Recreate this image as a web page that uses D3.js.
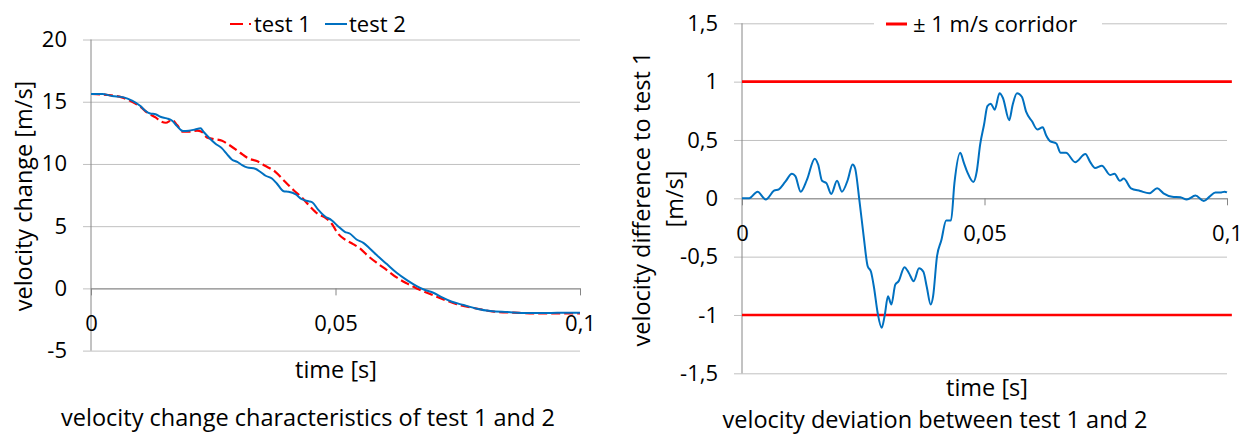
<!DOCTYPE html>
<html>
<head>
<meta charset="utf-8">
<script src="https://cdn.jsdelivr.net/npm/d3@7"></script>
<style>
  body { margin: 0; background: #fff; }
  svg { display: block; font-family: 'Open Sans', sans-serif; }
</style>
</head>
<body>
<svg id="charts" width="1254" height="435"></svg>
<script>
(function (d3) {
  'use strict';

  // test 1 (red dashed), time in s
  const test1Time = [0, 0.0036, 0.0063, 0.0084, 0.0101, 0.0115, 0.0132, 0.0142, 0.0153, 0.0166,
    0.0176, 0.0188, 0.0200, 0.0217, 0.0226, 0.0237, 0.0251, 0.0268, 0.0285, 0.0305,
    0.0322, 0.0339, 0.0357, 0.0377, 0.0397, 0.0414, 0.0431, 0.0447, 0.0464, 0.0478,
    0.0492, 0.0505, 0.0519, 0.0536, 0.0550, 0.0567, 0.0584, 0.0605, 0.0625, 0.0646,
    0.0666, 0.0687, 0.0707, 0.0728, 0.0748, 0.0769, 0.0796, 0.0824, 0.0865, 0.0906,
    0.0947, 0.1000];
  const test1Velocity = [15.62, 15.54, 15.35, 15.0, 14.6, 14.12, 13.74, 13.44, 13.31, 13.53,
    13.12, 12.59, 12.59, 12.67, 12.59, 12.13, 12.0, 11.86, 11.46, 10.9,
    10.44, 10.23, 9.83, 9.37, 8.57, 7.9, 7.31, 6.62, 5.98, 5.7,
    5.21, 4.41, 3.93, 3.56, 3.21, 2.59, 2.06, 1.47, 0.88, 0.40,
    0.0, -0.35, -0.67, -0.99, -1.28, -1.47, -1.68, -1.87, -1.95, -2.01,
    -2.01, -2.01];

  // test 2 (blue)
  const test2Time = [0, 0.0023, 0.0043, 0.0067, 0.0084, 0.0101, 0.0111, 0.0121, 0.0132, 0.0142,
    0.0155, 0.0166, 0.0176, 0.0188, 0.0200, 0.0213, 0.0224, 0.0230, 0.0241, 0.0254,
    0.0268, 0.0278, 0.0288, 0.0299, 0.0309, 0.0319, 0.0336, 0.0346, 0.0357, 0.0370,
    0.0380, 0.0394, 0.0404, 0.0418, 0.0431, 0.0445, 0.0453, 0.0464, 0.0478, 0.0492,
    0.0505, 0.0519, 0.0529, 0.0543, 0.0557, 0.0570, 0.0588, 0.0605, 0.0625, 0.0646,
    0.0666, 0.0683, 0.0700, 0.0718, 0.0738, 0.0762, 0.0789, 0.0817, 0.0851, 0.0892,
    0.0933, 0.0974, 0.1000];
  const test2Velocity = [15.62, 15.62, 15.46, 15.35, 15.08, 14.65, 14.28, 14.06, 14.0, 13.79,
    13.66, 13.47, 13.04, 12.64, 12.67, 12.77, 12.86, 12.59, 12.13, 11.65,
    11.25, 10.79, 10.36, 10.17, 9.91, 9.72, 9.61, 9.37, 9.05, 8.83,
    8.43, 7.81, 7.76, 7.57, 7.17, 7.0, 6.9, 6.35, 5.8, 5.48,
    5.0, 4.55, 4.41, 3.93, 3.66, 3.21, 2.54, 1.95, 1.26, 0.67,
    0.19, -0.13, -0.35, -0.72, -1.07, -1.34, -1.63, -1.82, -1.90, -1.98,
    -1.98, -1.95, -1.95];

  // velocity difference to test 1
  const diffTime = [0, 0.0015, 0.0032, 0.0049, 0.0066, 0.0076, 0.0089, 0.0103, 0.0110, 0.0121,
    0.0134, 0.0150, 0.0157, 0.0165, 0.0174, 0.0184, 0.0196, 0.0206, 0.0218, 0.0228,
    0.0233, 0.0242, 0.0251, 0.0259, 0.0266, 0.0272, 0.0280, 0.0288, 0.0294, 0.0301,
    0.0308, 0.0316, 0.0323, 0.0335, 0.0344, 0.0354, 0.0365, 0.0374, 0.0381, 0.0389,
    0.0394, 0.0402, 0.0411, 0.0421, 0.0431, 0.0438, 0.0450, 0.0457, 0.0465, 0.0477,
    0.0484, 0.0491, 0.0499, 0.0506, 0.0513, 0.0521, 0.0531, 0.0538, 0.0551, 0.0558,
    0.0567, 0.0577, 0.0586, 0.0598, 0.0609, 0.0620, 0.0627, 0.0635, 0.0648, 0.0657,
    0.0668, 0.0687, 0.0708, 0.0718, 0.0728, 0.0742, 0.0759, 0.0768, 0.0779, 0.0787,
    0.0802, 0.0821, 0.0840, 0.0856, 0.0869, 0.0887, 0.0904, 0.0917, 0.0935, 0.0952,
    0.0964, 0.0976, 0.0986, 0.0995, 0.1000];
  const diffVelocity = [0, 0, 0.057, -0.01, 0.065, 0.077, 0.14, 0.21, 0.19, 0.057,
    0.16, 0.34, 0.29, 0.15, 0.13, 0.037, 0.15, 0.057, 0.157, 0.29,
    0.26, -0.015, -0.33, -0.58, -0.63, -0.76, -0.99, -1.11, -1.01, -0.84,
    -0.91, -0.74, -0.71, -0.59, -0.64, -0.71, -0.60, -0.63, -0.76, -0.91,
    -0.84, -0.50, -0.36, -0.19, -0.19, 0.13, 0.39, 0.31, 0.22, 0.14,
    0.23, 0.46, 0.63, 0.79, 0.81, 0.76, 0.90, 0.86, 0.67, 0.80,
    0.90, 0.87, 0.74, 0.66, 0.59, 0.61, 0.54, 0.49, 0.47, 0.39,
    0.39, 0.31, 0.38, 0.31, 0.26, 0.28, 0.20, 0.21, 0.15, 0.17,
    0.086, 0.063, 0.043, 0.086, 0.043, 0.014, 0.009, -0.011, 0.023, -0.023,
    0.014, 0.049, 0.049, 0.057, 0.051];

  // ± 1 m/s corridor
  const corridorTime = [0, 0.101];
  const corridorUpper = [1, 1];
  const corridorLower = [-1, -1];

  const timeTicks = [0, 0.05, 0.1];
  const leftYTicks = [-5, 0, 5, 10, 15, 20];
  const rightYTicks = [-1.5, -1, -0.5, 0, 0.5, 1, 1.5];

  const red = '#ff0000';
  const blue = '#0070c0';
  const gridColor = '#c0c0c0';
  const axisColor = '#868686';

  const locale = d3.formatLocale({
    decimal: ',', thousands: '.', grouping: [3], currency: ['', ''], minus: '-'
  });
  const fmt = locale.format('~g');

  const toPoints = (xs, ys) => xs.map((x, i) => [x, ys[i]]);

  const svg = d3.select('svg#charts');

  const lineChart = (selection, props) => {
    const {
      left, right, top, bottom,
      yDomain, yTicks,
      series
    } = props;

    const xScale = d3.scaleLinear().domain([0, 0.1]).range([left, right]);
    const yScale = d3.scaleLinear().domain(yDomain).range([bottom, top]);

    const g = selection.append('g');

    // gridlines + y labels
    g.append('g')
        .attr('class', 'y-axis')
        .attr('transform', `translate(${left - 8},0)`)
        .call(d3.axisLeft(yScale)
          .tickValues(yTicks)
          .tickFormat(fmt)
          .tickSize(-(right - left + 8))
          .tickPadding(16))
        .attr('font-family', null)
        .attr('font-size', 22)
      .call(s => s.select('.domain').remove())
      .call(s => s.selectAll('line').attr('stroke', gridColor));

    g.append('line')
        .attr('x1', left).attr('x2', left)
        .attr('y1', top).attr('y2', bottom)
        .attr('stroke', axisColor);

    // x axis sits on zero
    g.append('g')
        .attr('class', 'x-axis')
        .attr('transform', `translate(0,${yScale(0)})`)
        .call(d3.axisBottom(xScale)
          .tickValues(timeTicks)
          .tickFormat(fmt)
          .tickSizeInner(7)
          .tickSizeOuter(0)
          .tickPadding(20))
        .attr('font-family', null)
        .attr('font-size', 22)
      .call(s => s.select('.domain').attr('stroke', axisColor))
      .call(s => s.selectAll('line').attr('stroke', axisColor));

    const line = d3.line()
      .x(d => xScale(d[0]))
      .y(d => yScale(d[1]))
      .curve(d3.curveMonotoneX);

    g.selectAll('.series').data(series)
      .enter().append('path')
        .attr('class', 'series')
        .attr('d', d => line(d.points))
        .attr('fill', 'none')
        .attr('stroke', d => d.color)
        .attr('stroke-width', d => d.width)
        .attr('stroke-dasharray', d => d.dash || null);

    return g;
  };

  const textAt = (x, y, str, size, rotate) => svg.append('text')
      .attr('transform', `translate(${x},${y})` + (rotate ? ' rotate(-90)' : ''))
      .attr('text-anchor', 'middle')
      .attr('dy', '0.35em')
      .attr('font-size', size)
      .text(str);

  // left: velocity change
  svg.call(lineChart, {
    left: 91, right: 580, top: 39.5, bottom: 350.6,
    yDomain: [-5, 20],
    yTicks: leftYTicks,
    series: [
      { points: toPoints(test1Time, test1Velocity), color: red, width: 2.2, dash: '9,4' },
      { points: toPoints(test2Time, test2Velocity), color: blue, width: 2 }
    ]
  });

  // right: deviation
  svg.call(lineChart, {
    left: 742, right: 1227, top: 23.3, bottom: 373.3,
    yDomain: [-1.5, 1.5],
    yTicks: rightYTicks,
    series: [
      { points: toPoints(corridorTime, corridorUpper), color: red, width: 2.6 },
      { points: toPoints(corridorTime, corridorLower), color: red, width: 2.6 },
      { points: toPoints(diffTime, diffVelocity), color: blue, width: 2 }
    ]
  });

  // left legend
  svg.append('line')
      .attr('x1', 230).attr('x2', 251).attr('y1', 24).attr('y2', 24)
      .attr('stroke', red).attr('stroke-width', 2.2).attr('stroke-dasharray', '13,6');
  svg.append('text').attr('x', 254).attr('y', 24).attr('dy', '0.35em')
      .attr('font-size', 22).text('test 1');
  svg.append('line')
      .attr('x1', 325).attr('x2', 347).attr('y1', 24).attr('y2', 24)
      .attr('stroke', blue).attr('stroke-width', 2);
  svg.append('text').attr('x', 349).attr('y', 24).attr('dy', '0.35em')
      .attr('font-size', 22).text('test 2');

  // right legend
  svg.append('rect')
      .attr('x', 874).attr('y', 10).attr('width', 228).attr('height', 28)
      .attr('fill', '#fff');
  svg.append('line')
      .attr('x1', 886).attr('x2', 907).attr('y1', 24).attr('y2', 24)
      .attr('stroke', red).attr('stroke-width', 3);
  svg.append('text').attr('x', 913).attr('y', 24).attr('dy', '0.35em')
      .attr('font-size', 22).text('± 1 m/s corridor');

  // titles
  textAt(24, 196, 'velocity change [m/s]', 23.5, true);
  textAt(336, 370, 'time [s]', 23.5);
  textAt(308, 418, 'velocity change characteristics of test 1 and 2', 23.5);

  textAt(642, 199, 'velocity difference to test 1', 23.5, true);
  textAt(675, 199, '[m/s]', 23.5, true);
  textAt(987, 388, 'time [s]', 23.5);
  textAt(935, 420, 'velocity deviation between test 1 and 2', 23.5);

}(d3));
</script>
</body>
</html>
